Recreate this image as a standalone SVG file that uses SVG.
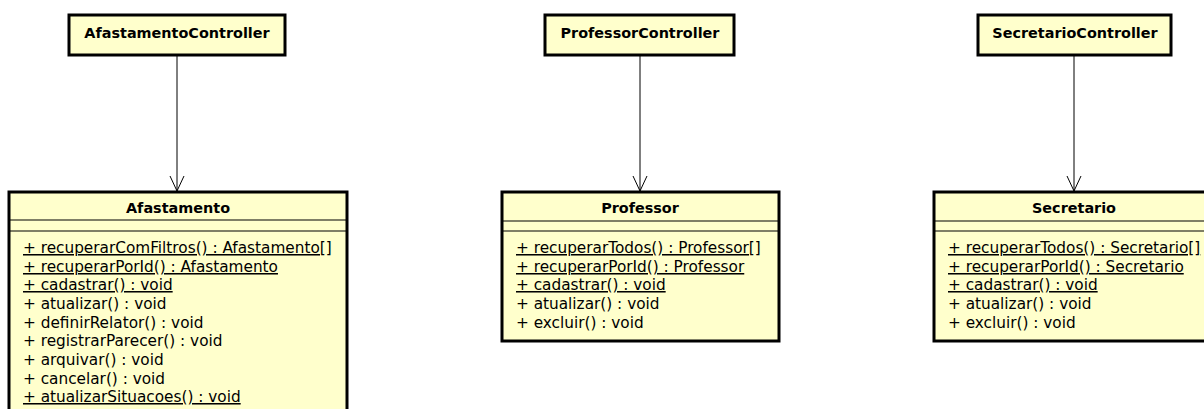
<svg xmlns="http://www.w3.org/2000/svg" width="1204" height="409" viewBox="0 0 1204 409">
  <style>
    .box { fill: #ffffcc; stroke: #000; stroke-width: 3; }
    .div { stroke: #000; stroke-width: 1.2; fill: none; }
    .title { font-family: "DejaVu Sans", "Liberation Sans", sans-serif; font-size: 14.4px; font-weight: bold; text-anchor: middle; fill: #000; }
    .op { font-family: "DejaVu Sans", "Liberation Sans", sans-serif; font-size: 15.3px; fill: #000; }
    .static { text-decoration: underline; text-decoration-skip-ink: none; }
    .edge { stroke: #000; stroke-width: 1; fill: none; }
  </style>
  <defs>
    <marker id="open" markerWidth="16" markerHeight="18" refX="15" refY="7" orient="auto" markerUnits="userSpaceOnUse" viewBox="0 0 16 14">
      <path d="M0,0 L15,7 L0,14" fill="none" stroke="#000" stroke-width="1"/>
    </marker>
  </defs>

  <!-- dependencies: controller -> entity -->
  <g id="connectors">
    <line class="edge" x1="177" y1="56" x2="177" y2="191" marker-end="url(#open)"/>
    <line class="edge" x1="640" y1="56" x2="640" y2="191" marker-end="url(#open)"/>
    <line class="edge" x1="1074" y1="56" x2="1074" y2="191" marker-end="url(#open)"/>
  </g>

  <g id="AfastamentoController">
    <rect class="box" x="69" y="15" width="216" height="40"/>
    <text class="title" x="177" y="38">AfastamentoController</text>
  </g>

  <g id="ProfessorController">
    <rect class="box" x="545" y="15" width="189" height="40"/>
    <text class="title" x="640" y="38">ProfessorController</text>
  </g>

  <g id="SecretarioController">
    <rect class="box" x="978" y="15" width="193" height="40"/>
    <text class="title" x="1075" y="38">SecretarioController</text>
  </g>

  <g id="Afastamento">
    <rect class="box" x="9" y="192" width="338" height="230"/>
    <text class="title" x="178" y="213">Afastamento</text>
    <line class="div" x1="9" y1="220" x2="347" y2="220"/>
    <line class="div" x1="9" y1="231" x2="347" y2="231"/>
    <text class="op static" x="23" y="253">+ recuperarComFiltros() : Afastamento[]</text>
    <text class="op static" x="23" y="272">+ recuperarPorId() : Afastamento</text>
    <text class="op static" x="23" y="290">+ cadastrar() : void</text>
    <text class="op" x="23" y="309">+ atualizar() : void</text>
    <text class="op" x="23" y="328">+ definirRelator() : void</text>
    <text class="op" x="23" y="346">+ registrarParecer() : void</text>
    <text class="op" x="23" y="365">+ arquivar() : void</text>
    <text class="op" x="23" y="384">+ cancelar() : void</text>
    <text class="op static" x="23" y="402">+ atualizarSituacoes() : void</text>
  </g>

  <g id="Professor">
    <rect class="box" x="502" y="192" width="277" height="149"/>
    <text class="title" x="640" y="213">Professor</text>
    <line class="div" x1="502" y1="221" x2="779" y2="221"/>
    <line class="div" x1="502" y1="231" x2="779" y2="231"/>
    <text class="op static" x="516" y="253">+ recuperarTodos() : Professor[]</text>
    <text class="op static" x="516" y="272">+ recuperarPorId() : Professor</text>
    <text class="op static" x="516" y="290">+ cadastrar() : void</text>
    <text class="op" x="516" y="309">+ atualizar() : void</text>
    <text class="op" x="516" y="328">+ excluir() : void</text>
  </g>

  <g id="Secretario">
    <rect class="box" x="934" y="192" width="280" height="149"/>
    <text class="title" x="1074" y="213">Secretario</text>
    <line class="div" x1="934" y1="221" x2="1214" y2="221"/>
    <line class="div" x1="934" y1="231" x2="1214" y2="231"/>
    <text class="op static" x="948" y="253">+ recuperarTodos() : Secretario[]</text>
    <text class="op static" x="948" y="272">+ recuperarPorId() : Secretario</text>
    <text class="op static" x="948" y="290">+ cadastrar() : void</text>
    <text class="op" x="948" y="309">+ atualizar() : void</text>
    <text class="op" x="948" y="328">+ excluir() : void</text>
  </g>
</svg>
